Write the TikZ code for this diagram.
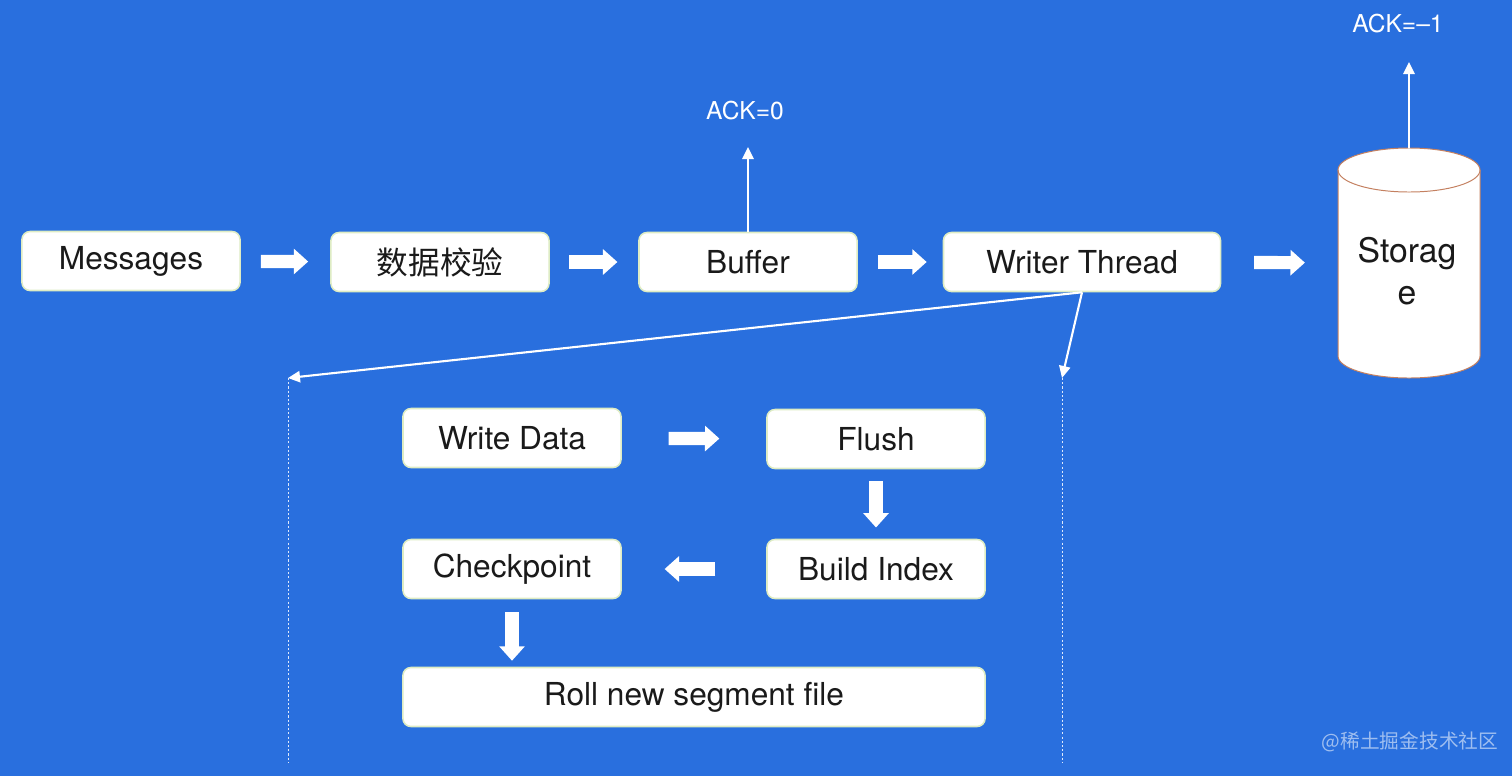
\documentclass[tikz,border=0pt]{standalone}
\usepackage{fontspec}
\setmainfont{TeX Gyre Heros}
\newfontfamily\cjk{Noto Sans CJK SC}
\usetikzlibrary{arrows.meta}
\definecolor{bgblue}{RGB}{41,111,222}
\definecolor{boxedge}{RGB}{222,236,196}
\definecolor{drumedge}{RGB}{196,128,96}
\definecolor{boxtext}{RGB}{26,26,26}
\tikzset{
  stepbox/.style={draw=boxedge,line width=1.1pt,fill=white,rounded corners=0.2cm,
    minimum width=5.45cm,minimum height=1.475cm,inner sep=0pt,text=boxtext,
    font=\fontsize{22.5}{27}\selectfont},
  fatarrow/.style={white,line width=0.33cm,-{Triangle[length=0.36cm,width=0.62cm]}},
  thinarrow/.style={white,line width=1.5pt,-{Triangle[length=0.3cm,width=0.28cm]}},
  acklabel/.style={white,font=\fontsize{17.5}{21}\selectfont},
  guide/.style={white,opacity=0.85,line width=0.6pt,dash pattern=on 1.5pt off 1.5pt},
}
\begin{document}
\begin{tikzpicture}[x=0.025cm,y=-0.025cm]
\fill[bgblue] (0,0) rectangle (1512,776);
\node[stepbox] (msg) at (131,261) {Messages};
\node[stepbox] (verify) at (440,262) {\cjk 数据校验};
\node[stepbox] (buf) at (748,262) {Buffer};
\node[stepbox,minimum width=6.925cm] (wt) at (1082,262) {Writer Thread};
\node[minimum width=3.55cm,minimum height=5.75cm] (storage) at (1409,263) {};
\filldraw[fill=white,draw=drumedge,line width=0.7pt] (1338,170) -- (1338,356)
  arc (180:360:1.775cm and 0.55cm) -- (1480,170) arc (0:180:1.775cm and 0.55cm) -- cycle;
\draw[drumedge,line width=0.7pt] (1338,170) arc (180:360:1.775cm and 0.55cm);
\node[align=center,text=boxtext,font=\fontsize{24}{30}\selectfont] (storagetext) at (1407,271) {Storag\\e};
\draw[fatarrow,shorten <=0.5cm,shorten >=0.55cm] (msg) -- (verify);
\draw[fatarrow,shorten <=0.48cm,shorten >=0.52cm] (verify) -- (buf);
\draw[fatarrow,shorten <=0.5cm,shorten >=0.4cm] (buf) -- (wt);
\draw[fatarrow,shorten <=0.82cm,shorten >=0.82cm] (wt) -- (storage);
\coordinate (ack0tip) at (748,147);
\coordinate (ack1tip) at (1409,62);
\node[acklabel] (ack0) at (745,111) {ACK=0};
\node[acklabel] (ack1) at (1398,24) {ACK=--1};
\draw[thinarrow] (buf.north) -- (ack0tip);
\draw[thinarrow] (storage.north) -- (ack1tip);
\coordinate (lefttop) at (288,378);
\coordinate (righttop) at (1062,378);
\coordinate (leftbot) at (288,762);
\coordinate (rightbot) at (1062,762);
\draw[thinarrow] (wt.south) -- (lefttop);
\draw[thinarrow] (wt.south) -- (righttop);
\draw[guide] (lefttop) -- (leftbot);
\draw[guide] (righttop) -- (rightbot);
\node[stepbox] (wd) at (512,438) {Write Data};
\node[stepbox] (fl) at (876,439) {Flush};
\node[stepbox] (bi) at (876,569) {Build Index};
\node[stepbox] (cp) at (512,569) {Checkpoint};
\node[stepbox,minimum width=14.55cm] (roll) at (694,697) {Roll new segment file};
\draw[fatarrow,shorten <=1.17cm,shorten >=1.17cm] (wd) -- (fl);
\draw[fatarrow,shorten <=0.3cm,shorten >=0.28cm] (fl) -- (bi);
\draw[fatarrow,shorten <=1.27cm,shorten >=1.07cm] (bi) -- (cp);
\draw[fatarrow,shorten <=0.33cm,shorten >=0.15cm] (cp.south) -- (cp.south |- roll.north);
\node[white,opacity=0.55,font=\cjk\fontsize{14}{16}\selectfont] (credit) at (1410,742) {@稀土掘金技术社区};
\end{tikzpicture}
\end{document}
